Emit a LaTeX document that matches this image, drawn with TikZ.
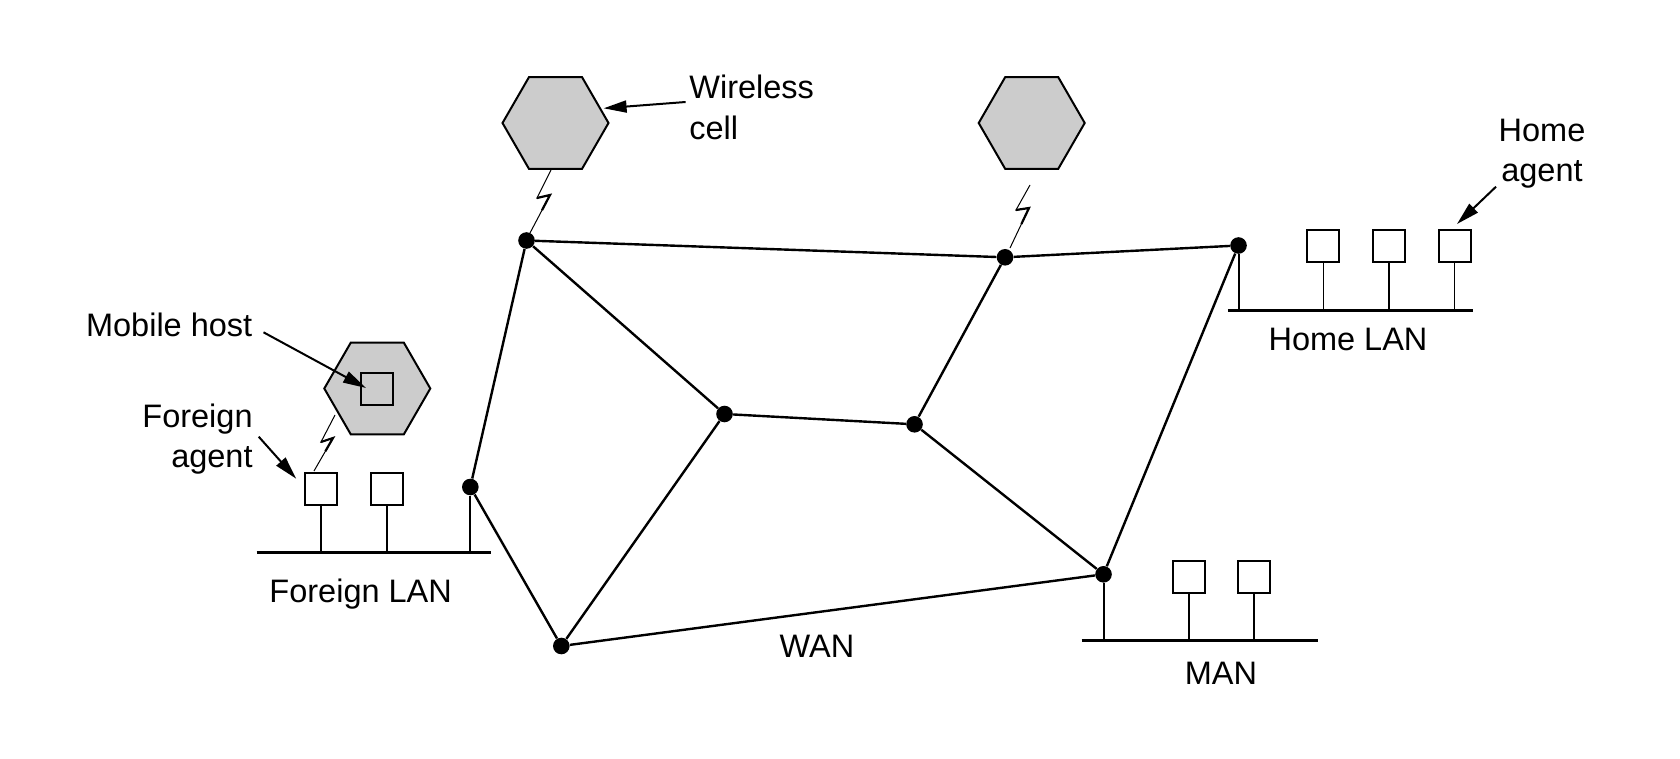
\documentclass[tikz,border=0pt]{standalone}
\usepackage{fontspec}
\setmainfont{Liberation Sans}
\usetikzlibrary{shapes.geometric,arrows.meta,calc}
\definecolor{cellgray}{HTML}{CCCCCC}
\begin{document}
\begin{tikzpicture}[x=0.5pt,y=-0.5pt,
  lbl/.style={inner sep=0pt, font=\fontsize{16.25}{20.25}\selectfont},
  net/.style={line width=1.2pt},
  dotn/.style={circle, fill=black, inner sep=0pt, minimum size=8.3pt},
  hexa/.style={regular polygon, regular polygon sides=6, minimum size=53pt, inner sep=0pt, draw, line width=1pt, fill=cellgray},
  host/.style={draw, line width=1pt, minimum size=16pt, inner sep=0pt},
  bus/.style={line width=1.5pt},
  stem/.style={line width=0.8pt},
  bolt/.style={line width=0.5pt, line join=miter},
  boltmid/.style={line width=1.1pt, line join=miter},
  pointer/.style={line width=1pt, -{Triangle[length=11.5pt,width=6pt]}},
]
\useasboundingbox (0,0) rectangle (1680,759);

% wireless cells
\node[hexa] (cell1) at (555.5,123) {};
\node[hexa] (cell2) at (1031.7,123) {};
\node[hexa] (cell3) at (377.3,388.5) {};
\node[host] (mh) at (377.3,389.3) {};

% WAN routers
\node[dotn] (A) at (526.5,240.5) {};
\node[dotn] (B) at (1005,257.3) {};
\node[dotn] (C) at (1238.5,245.5) {};
\node[dotn] (D) at (724.5,414) {};
\node[dotn] (E) at (914.5,424.3) {};
\node[dotn] (F) at (470.3,487) {};
\node[dotn] (G) at (561.3,646) {};
\node[dotn] (H) at (1103.5,574.3) {};

\draw[net] (A) -- (B) (B) -- (C) (A) -- (D) (A) -- (F) (D) -- (E)
  (E) -- (B) (D) -- (G) (F) -- (G) (G) -- (H) (E) -- (H) (H) -- (C);

% Foreign LAN
\coordinate (fbusL) at (256.6,552.3);
\coordinate (fbusR) at (491,552.3);
\draw[bus] (fbusL) -- (fbusR);
\node[host] (fa1) at (321,489) {};
\node[host] (fa2) at (386.7,489) {};
\draw[stem] (fa1.south) -- (fa1.south |- fbusL);
\draw[stem] (fa2.south) -- (fa2.south |- fbusL);
\draw[line width=1pt] (F) -- (F |- fbusL);

% Home LAN
\coordinate (hbusL) at (1227.8,310);
\coordinate (hbusR) at (1473,310);
\draw[bus] (hbusL) -- (hbusR);
\node[host] (h1) at (1323.4,246.3) {};
\node[host] (h2) at (1388.8,246.3) {};
\node[host] (h3) at (1454.6,246.3) {};
\draw[stem] (h1.south) -- (h1.south |- hbusL);
\draw[stem] (h2.south) -- (h2.south |- hbusL);
\draw[stem] (h3.south) -- (h3.south |- hbusL);
\draw[line width=1pt] (C) -- (C |- hbusL);

% MAN
\coordinate (mbusL) at (1081.6,640.3);
\coordinate (mbusR) at (1318.3,640.3);
\draw[bus] (mbusL) -- (mbusR);
\node[host] (m1) at (1188.7,577) {};
\node[host] (m2) at (1254,577) {};
\draw[stem] (m1.south) -- (m1.south |- mbusL);
\draw[stem] (m2.south) -- (m2.south |- mbusL);
\draw[line width=1pt] (H) -- (H |- mbusL);

% lightning bolts
\coordinate (b1t) at (551,170); \coordinate (b1l) at (537,198);
\coordinate (b1r) at (550,195); \coordinate (b1b) at (530,233);
\draw[bolt] (b1t) -- (b1l) -- (b1r) -- (b1b);
\draw[boltmid] (b1l) -- (b1r) -- ($(b1r)!0.4!(b1b)$);
\coordinate (b2t) at (1030,185); \coordinate (b2l) at (1016,210);
\coordinate (b2r) at (1029,208); \coordinate (b2b) at (1010,248);
\draw[bolt] (b2t) -- (b2l) -- (b2r) -- (b2b);
\draw[boltmid] (b2l) -- (b2r) -- ($(b2r)!0.4!(b2b)$);
\coordinate (b3t) at (335,415); \coordinate (b3l) at (321,442);
\coordinate (b3r) at (333,438); \coordinate (b3b) at (314,471);
\draw[bolt] (b3t) -- (b3l) -- (b3r) -- (b3b);
\draw[boltmid] (b3l) -- (b3r) -- ($(b3r)!0.4!(b3b)$);

% labels
\node[lbl, align=left, anchor=north west] (wl) at (689,75) {Wireless\\cell};
\node[lbl, align=center, anchor=north] (hal) at (1542,118.3) {Home\\agent};
\node[lbl, anchor=base west] (mhl) at (85.7,336) {Mobile host};
\node[lbl, align=right, anchor=north east] (fal) at (253,403.3) {Foreign\\agent};
\node[lbl, anchor=base] (fl) at (360.7,602.7) {Foreign LAN};
\node[lbl, anchor=base] (hl) at (1348,350.7) {Home LAN};
\node[lbl, anchor=base] (wan) at (817,657.3) {WAN};
\node[lbl, anchor=base] (man) at (1221,684.3) {MAN};

% pointers
\coordinate (wst) at (685.6,102); \coordinate (wtip) at (603.6,108.3);
\draw[pointer] (wst) -- (wtip);
\coordinate (mst) at (263.5,332.3); \coordinate (mtip) at (366,388);
\draw[pointer] (mst) -- (mtip);
\coordinate (fst) at (258.7,436.7); \coordinate (ftip) at (296.2,478.7);
\draw[pointer] (fst) -- (ftip);
\coordinate (hst) at (1496,186.7); \coordinate (htip) at (1457,224);
\draw[pointer] (hst) -- (htip);
\end{tikzpicture}
\end{document}
